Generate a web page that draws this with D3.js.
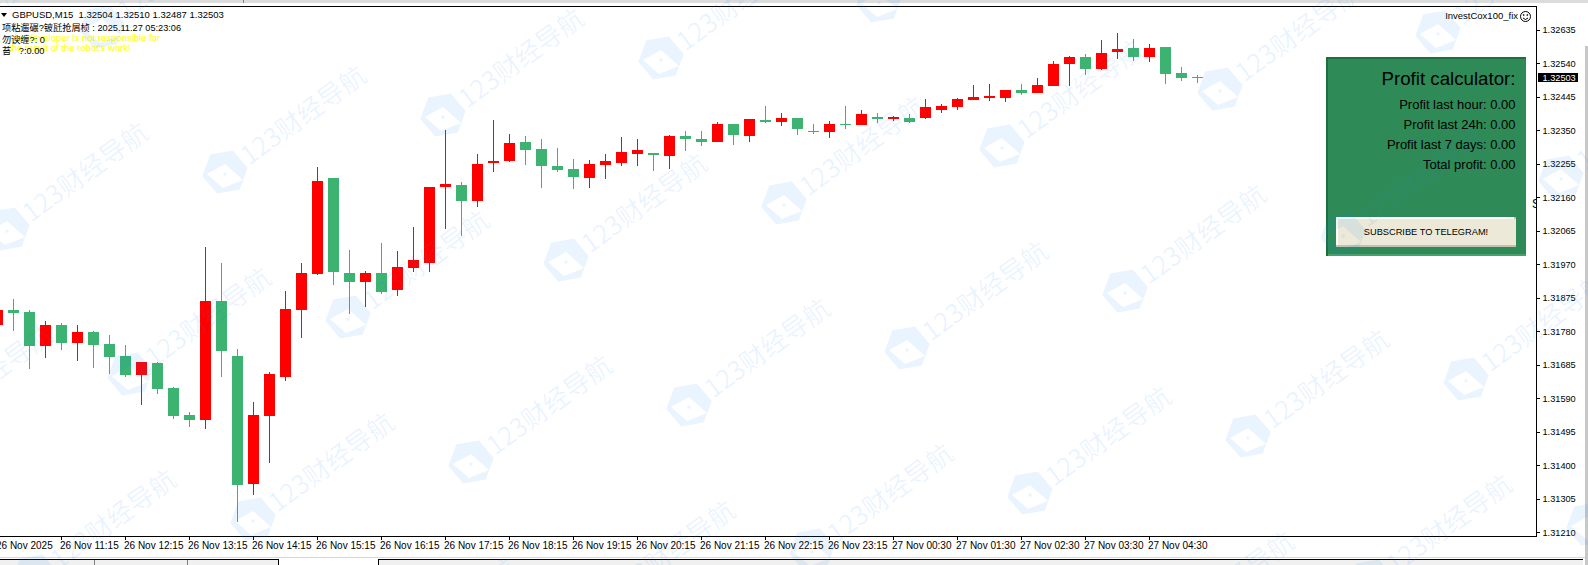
<!DOCTYPE html>
<meta charset="utf-8">

<script src="https://d3js.org/d3.v7.min.js"></script>

<style>
  html, body { margin: 0; padding: 0; background: #fff; overflow: hidden; }
  text { font-family: "Liberation Sans", Arial, sans-serif; white-space: pre; }
  .axis text { font-size: 10px; fill: #000; font-family: "Liberation Sans", Arial, sans-serif; }
  .axis.price text { font-size: 9.2px; }
  .axis line, .axis path { stroke: #000; shape-rendering: crispEdges; }
  .wick, .body { shape-rendering: crispEdges; }
</style>

<div id="chart"></div>

<script>
  const symbol = "GBPUSD,M15";
  const currentPrice = 1.32503;

  // bars left to right, 15 minutes each
  const opens = [
    1.31800, 1.31842, 1.31836, 1.31740, 1.31800, 1.31748, 1.31780, 1.31746, 1.31712, 1.31658,
    1.31692, 1.31621, 1.31544, 1.31530, 1.31868, 1.31712, 1.31348, 1.31541, 1.31652, 1.31842,
    1.31944, 1.32217, 1.31947, 1.31921, 1.31947, 1.31899, 1.31961, 1.31975, 1.32191, 1.32197,
    1.32151, 1.32259, 1.32265, 1.32319, 1.32299, 1.32251, 1.32242, 1.32217, 1.32253, 1.32259,
    1.32285, 1.32287, 1.32279, 1.32336, 1.32327, 1.32319, 1.32370, 1.32336, 1.32381, 1.32375,
    1.32387, 1.32350, 1.32347, 1.32370, 1.32367, 1.32390, 1.32384, 1.32387, 1.32387, 1.32409,
    1.32418, 1.32438, 1.32443, 1.32443, 1.32466, 1.32458, 1.32478, 1.32540, 1.32560, 1.32526,
    1.32574, 1.32585, 1.32560, 1.32588, 1.32514, 1.32504];
  const highs = [
    1.31842, 1.31873, 1.31842, 1.31811, 1.31805, 1.31800, 1.31783, 1.31771, 1.31743, 1.31695,
    1.31695, 1.31624, 1.31553, 1.32021, 1.31975, 1.31731, 1.31581, 1.31666, 1.31896, 1.31975,
    1.32248, 1.32217, 1.32012, 1.31953, 1.32032, 1.32009, 1.32078, 1.32191, 1.32353, 1.32205,
    1.32285, 1.32381, 1.32341, 1.32336, 1.32327, 1.32302, 1.32270, 1.32268, 1.32285, 1.32333,
    1.32327, 1.32287, 1.32339, 1.32350, 1.32350, 1.32375, 1.32370, 1.32384, 1.32421, 1.32401,
    1.32387, 1.32370, 1.32378, 1.32421, 1.32409, 1.32401, 1.32392, 1.32398, 1.32441, 1.32427,
    1.32443, 1.32480, 1.32483, 1.32466, 1.32483, 1.32500, 1.32548, 1.32563, 1.32568, 1.32608,
    1.32628, 1.32611, 1.32597, 1.32588, 1.32531, 1.32510];
  const lows = [
    1.31800, 1.31783, 1.31675, 1.31706, 1.31729, 1.31697, 1.31677, 1.31660, 1.31652, 1.31573,
    1.31604, 1.31533, 1.31510, 1.31505, 1.31652, 1.31241, 1.31317, 1.31408, 1.31641, 1.31763,
    1.31941, 1.31913, 1.31831, 1.31851, 1.31887, 1.31882, 1.31950, 1.31950, 1.32072, 1.32052,
    1.32134, 1.32234, 1.32262, 1.32253, 1.32188, 1.32234, 1.32185, 1.32188, 1.32214, 1.32251,
    1.32251, 1.32236, 1.32242, 1.32293, 1.32307, 1.32319, 1.32310, 1.32319, 1.32373, 1.32364,
    1.32339, 1.32341, 1.32330, 1.32356, 1.32367, 1.32373, 1.32378, 1.32373, 1.32384, 1.32401,
    1.32409, 1.32438, 1.32435, 1.32432, 1.32452, 1.32458, 1.32478, 1.32478, 1.32509, 1.32523,
    1.32554, 1.32548, 1.32546, 1.32483, 1.32492, 1.32487];
  const closes = [
    1.31842, 1.31834, 1.31740, 1.31800, 1.31748, 1.31780, 1.31743, 1.31709, 1.31658, 1.31695,
    1.31618, 1.31541, 1.31530, 1.31868, 1.31726, 1.31346, 1.31544, 1.31660, 1.31845, 1.31947,
    1.32208, 1.31950, 1.31921, 1.31947, 1.31893, 1.31964, 1.31984, 1.32191, 1.32200, 1.32151,
    1.32256, 1.32265, 1.32316, 1.32296, 1.32251, 1.32239, 1.32219, 1.32256, 1.32265, 1.32290,
    1.32296, 1.32282, 1.32336, 1.32327, 1.32319, 1.32370, 1.32339, 1.32384, 1.32375, 1.32387,
    1.32356, 1.32347, 1.32370, 1.32367, 1.32398, 1.32384, 1.32390, 1.32375, 1.32418, 1.32421,
    1.32441, 1.32446, 1.32449, 1.32466, 1.32458, 1.32480, 1.32540, 1.32560, 1.32526, 1.32571,
    1.32582, 1.32560, 1.32585, 1.32512, 1.32500, 1.32503];

  // one label every 4 bars
  const timeLabels = ["26 Nov 2025", "26 Nov 11:15", "26 Nov 12:15", "26 Nov 13:15", "26 Nov 14:15",
    "26 Nov 15:15", "26 Nov 16:15", "26 Nov 17:15", "26 Nov 18:15", "26 Nov 19:15", "26 Nov 20:15",
    "26 Nov 21:15", "26 Nov 22:15", "26 Nov 23:15", "27 Nov 00:30", "27 Nov 01:30", "27 Nov 02:30",
    "27 Nov 03:30", "27 Nov 04:30"];
  const priceTicks = [1.32635, 1.32540, 1.32445, 1.32350, 1.32255, 1.32160, 1.32065, 1.31970,
    1.31875, 1.31780, 1.31685, 1.31590, 1.31495, 1.31400, 1.31305, 1.31210];

  const panelTitle = "Profit calculator:";
  const panelLines = ["Profit last hour: 0.00", "Profit last 24h: 0.00", "Profit last 7 days: 0.00", "Total profit: 0.00"];
  const buttonText = "SUBSCRIBE TO TELEGRAM!";
  const infoLines = ["项粘遛碾?铍瓩抢屑桢 : 2025.11.27 05:23:06", "勿谀缠?: 0", "苔   ?:0.00"];
  const noteLines = ["The developer is not responsible for", "the result of the robot's work!"];
  const watermark = "123财经导航";

  const width = 1588, height = 565;
  const plot = { left: 0, top: 6, right: 1536, bottom: 536 };
  const red = "#ff0000", green = "#3cb371";

  const svg = d3.select("#chart").append("svg")
    .attr("width", width)
    .attr("height", height)
    .style("display", "block");

  svg.append("defs").append("clipPath").attr("id", "plotclip")
    .append("rect")
    .attr("x", plot.left).attr("y", plot.top)
    .attr("width", plot.right - plot.left).attr("height", plot.bottom - plot.top);

  // scales
  const x = d3.scalePoint()
    .domain(d3.range(opens.length))
    .range([-2.5, 1197.5]);
  const y = d3.scaleLinear()
    .domain([1.31210, 1.32635])
    .range([532.7, 30.5]);
  const py = v => Math.round(y(v));

  // window chrome, top strip and tab bar
  svg.append("rect").attr("width", width).attr("height", 3).attr("fill", "#dcdcdc");
  svg.append("rect").attr("x", 243).attr("width", 1).attr("height", 3).attr("fill", "#808080");
  svg.append("rect").attr("x", 1585).attr("y", 46).attr("width", 3).attr("height", height - 46).attr("fill", "#c8c8c8");
  svg.append("rect").attr("y", 557).attr("width", 1585).attr("height", 1).attr("fill", "#d8d8d8");
  svg.append("rect").attr("y", 559).attr("width", 278).attr("height", 6).attr("fill", "#f0f0f0");
  svg.append("rect").attr("x", 378).attr("y", 559).attr("width", 1205).attr("height", 6).attr("fill", "#f0f0f0");
  svg.append("rect").attr("y", 559).attr("width", 279).attr("height", 1).attr("fill", "#000");
  svg.append("rect").attr("x", 378).attr("y", 559).attr("width", 1205).attr("height", 1).attr("fill", "#000");
  svg.append("rect").attr("x", 278).attr("y", 559).attr("width", 1).attr("height", 6).attr("fill", "#000");
  svg.append("rect").attr("x", 378).attr("y", 559).attr("width", 1).attr("height", 6).attr("fill", "#000");
  svg.append("rect").attr("x", 94).attr("y", 560).attr("width", 1).attr("height", 5).attr("fill", "#808080");
  svg.append("rect").attr("x", 187).attr("y", 560).attr("width", 1).attr("height", 5).attr("fill", "#808080");

  // candles
  const bars = svg.append("g").attr("clip-path", "url(#plotclip)")
    .selectAll("g")
    .data(d3.range(opens.length))
    .join("g");

  bars.append("line")
    .attr("class", "wick")
    .attr("x1", d => x(d))
    .attr("x2", d => x(d))
    .attr("y1", d => py(highs[d]))
    .attr("y2", d => py(lows[d]))
    .attr("stroke", d => closes[d] >= opens[d] ? red : green);

  bars.append("rect")
    .attr("class", "body")
    .attr("x", d => x(d) - 5.5)
    .attr("width", 11)
    .attr("y", d => py(Math.max(opens[d], closes[d])))
    .attr("height", d => Math.max(1, py(Math.min(opens[d], closes[d])) - py(Math.max(opens[d], closes[d]))))
    .attr("fill", d => closes[d] >= opens[d] ? red : green);

  // axes
  const xAxis = svg.append("g")
    .attr("class", "axis")
    .attr("transform", `translate(0,${plot.bottom + 0.5})`)
    .call(d3.axisBottom(x)
      .offset(0)
      .tickSizeOuter(0)
      .tickSize(3)
      .tickValues(timeLabels.map((d, i) => i * 4))
      .tickFormat(d => timeLabels[d / 4]));
  xAxis.select(".domain").attr("d", `M0,0H${plot.right + 0.5}`);
  xAxis.selectAll("text").attr("text-anchor", "start").attr("x", -1.5).attr("y", 5).attr("dy", "0.71em");

  const yAxis = svg.append("g")
    .attr("class", "axis price")
    .attr("transform", `translate(${plot.right + 0.5},0)`)
    .call(d3.axisRight(y)
      .offset(0)
      .tickSize(3)
      .tickValues(priceTicks)
      .tickFormat(d => d.toFixed(5)));
  yAxis.select(".domain").attr("d", `M0,${plot.top}V${plot.bottom}`);
  yAxis.selectAll("text").attr("x", 6);

  svg.append("line")
    .attr("x1", 0).attr("x2", plot.right + 1)
    .attr("y1", plot.top + 0.5).attr("y2", plot.top + 0.5)
    .attr("stroke", "#000");

  // current price tag
  svg.append("rect")
    .attr("x", 1538).attr("y", py(currentPrice) - 4)
    .attr("width", 40).attr("height", 9)
    .attr("fill", "#000");
  svg.append("text")
    .attr("x", plot.right + 6.5).attr("y", py(currentPrice) + 4)
    .attr("fill", "#fff")
    .style("font-size", "9.2px")
    .text(currentPrice.toFixed(5));

  // top left info
  svg.append("path").attr("d", "M1,13H7L4,17Z").attr("fill", "#000");
  svg.append("text")
    .attr("x", 12).attr("y", 18)
    .style("font-size", "9.5px")
    .text(`${symbol}  ${opens[75].toFixed(5)} ${highs[75].toFixed(5)} ${lows[75].toFixed(5)} ${closes[75].toFixed(5)}`);

  svg.selectAll(".note").data(noteLines).join("text")
    .attr("class", "note")
    .attr("x", 9)
    .attr("y", (d, i) => 41 + i * 10)
    .attr("fill", "#ffff00")
    .style("font-size", "9.5px")
    .text(d => d);

  svg.selectAll(".info").data(infoLines).join("text")
    .attr("class", "info")
    .attr("x", 2)
    .attr("y", (d, i) => [31, 43, 54][i])
    .attr("fill", "#000")
    .style("font-family", "'Liberation Sans','Noto Sans CJK SC'")
    .style("font-size", "9.2px")
    .text(d => d);

  // expert name and smiley
  svg.append("text")
    .attr("x", 1518).attr("y", 19)
    .attr("text-anchor", "end")
    .style("font-size", "9.5px")
    .text("InvestCox100_fix");
  const smile = svg.append("g").attr("transform", "translate(1525.5,16.5)").attr("fill", "none").attr("stroke", "#000");
  smile.append("circle").attr("r", 5);
  smile.append("path").attr("d", "M-2.5,1.5Q0,4.5 2.5,1.5");
  smile.append("circle").attr("cx", -1.8).attr("cy", -1.5).attr("r", 0.5);
  smile.append("circle").attr("cx", 1.8).attr("cy", -1.5).attr("r", 0.5);

  // cut off label against the price axis
  svg.append("text")
    .attr("x", 1532).attr("y", 208)
    .attr("clip-path", "url(#plotclip)")
    .style("font-size", "12px")
    .text("S");

  // profit panel
  const panel = svg.append("g");
  panel.append("rect").attr("x", 1326).attr("y", 57).attr("width", 200).attr("height", 199).attr("fill", "#4a9f6f");
  panel.append("path").attr("d", "M1326,57H1526V59H1328V256H1326Z").attr("fill", "#1c7040");
  panel.append("rect").attr("x", 1328).attr("y", 59).attr("width", 198).attr("height", 195).attr("fill", "#2e8b57");
  panel.append("text")
    .attr("x", 1515.5).attr("y", 85)
    .attr("text-anchor", "end")
    .style("font-size", "18.7px")
    .text(panelTitle);
  panel.selectAll(".pl").data(panelLines).join("text")
    .attr("class", "pl")
    .attr("x", 1515.5)
    .attr("y", (d, i) => 109 + i * 20)
    .attr("text-anchor", "end")
    .style("font-size", "13px")
    .text(d => d);

  panel.append("rect").attr("x", 1336).attr("y", 217).attr("width", 180).attr("height", 30).attr("fill", "#c4c0b4");
  panel.append("rect").attr("x", 1336).attr("y", 217).attr("width", 178).attr("height", 28).attr("fill", "#fff");
  panel.append("rect").attr("x", 1338).attr("y", 219).attr("width", 178).attr("height", 26).attr("fill", "#ece9d8");
  panel.append("text")
    .attr("x", 1426).attr("y", 235)
    .attr("text-anchor", "middle")
    .style("font-size", "9.25px")
    .text(buttonText);

  // watermark on top of everything, slightly see through
  const marks = [];
  for (let i = -8; i < 12; i++) {
    for (let j = -6; j < 8; j++) {
      const mx = 225 + i * 218 + j * 123, my = 172 - i * 57 + j * 145;
      if (mx > -200 && mx < width + 50 && my > -60 && my < height + 150) marks.push([mx, my]);
    }
  }
  const hex = d3.range(6).map(k => {
    const a = (-70 + k * 60) * Math.PI / 180;
    return [23 * Math.cos(a), 23 * Math.sin(a)];
  });
  const logoPath = "M" + hex.join("L") + "Z"
    + "M-18,2L0,-8L18,8L-2,16Z"
    + "M-1.5,0.5h3v3h-3Z";
  const wm = svg.append("g").attr("pointer-events", "none")
    .selectAll("g")
    .data(marks)
    .join("g")
    .attr("transform", d => `translate(${d[0]},${d[1]})`)
    .attr("fill", "#1982ff")
    .attr("fill-opacity", 0.09);
  wm.append("path").attr("d", logoPath).attr("fill-rule", "evenodd");
  wm.append("text")
    .attr("transform", "translate(24,-6) rotate(-36)")
    .style("font-family", "'Noto Sans CJK SC'")
    .style("font-size", "26px")
    .text(watermark);
</script>
